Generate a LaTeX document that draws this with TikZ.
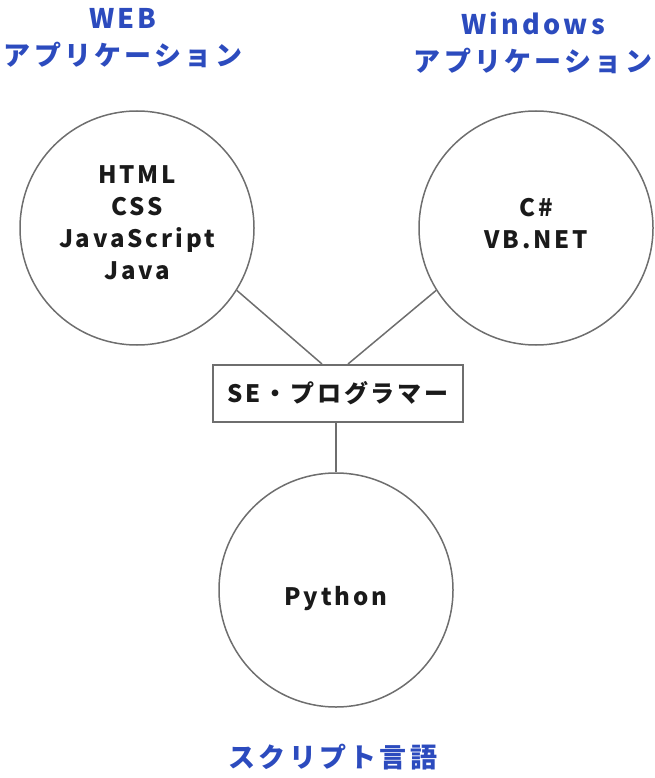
\documentclass[tikz,border=0pt]{standalone}
\usepackage{fontspec}
\newfontfamily\jpfont[LetterSpace=12]{Noto Sans CJK JP}
\usetikzlibrary{calc}
\definecolor{labelblue}{HTML}{2C4BBE}
\definecolor{ink}{HTML}{1A1A1A}
\definecolor{rim}{HTML}{6E6E6E}
\tikzset{
  lang/.style={circle, draw=rim, line width=1.5pt, minimum size=234pt, inner sep=0pt},
  langtext/.style={align=center, text=ink, font=\jpfont\bfseries\fontsize{24}{32}\selectfont},
  rolebox/.style={draw=rim, line width=2pt, minimum width=250pt, minimum height=57pt,
    text=ink, font=\jpfont\bfseries\fontsize{24}{32}\selectfont},
  field/.style={text=labelblue, align=center, font=\jpfont\bfseries\fontsize{27}{37}\selectfont},
  link/.style={draw=rim, line width=1.5pt}
}
\begin{document}
\begin{tikzpicture}[x=1pt,y=-1pt]
\useasboundingbox (0,0) rectangle (654,778);
% language circles
\node[lang] (web) at (137,228) {};
\node[lang] (win) at (536,228) {};
\node[lang] (python) at (336,590) {};
\node[langtext] (webtext) at ([yshift=5pt]web.center) {HTML\\CSS\\JavaScript\\Java};
\node[langtext] (wintext) at ([yshift=4pt]win.center) {C\#\\VB.NET};
\node[langtext] (pythontext) at ([yshift=-9pt]python.center) {Python};
% role in the middle
\node[rolebox] (role) at (338,393.5) {SE・プログラマー};
% field labels
\node[field] (weblabel) at (123,38) {WEB\\アプリケーション};
\node[field] (winlabel) at (533,43) {Windows\\アプリケーション};
\node[field] (scriptlabel) at (333,757) {スクリプト言語};
% connectors
\draw[link] (web.-32) -- ($(role.north)+(-16,0)$);
\draw[link] (win.-148) -- ($(role.north)+(10,0)$);
\draw[link] (python.north |- role.south) -- (python.north);
\end{tikzpicture}
\end{document}
